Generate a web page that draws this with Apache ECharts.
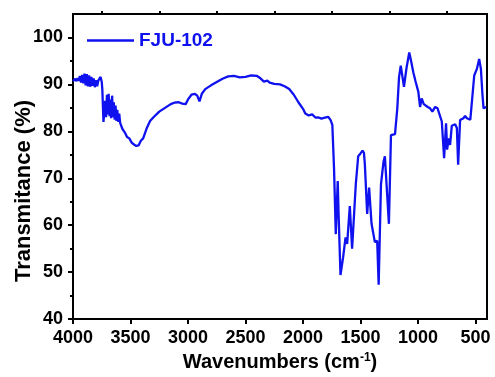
<!DOCTYPE html>
<html>
<head>
<meta charset="utf-8">
<script src="https://cdn.jsdelivr.net/npm/echarts@6/dist/echarts.min.js"></script>
<style>
  html, body { margin: 0; padding: 0; background: #fff; }
  #main { width: 495px; height: 377px; }
</style>
</head>
<body>
<div id="main"></div>
<script>
// FT-IR spectrum of FJU-102
const wavenumbers = [
  4000, 3990, 3980, 3970, 3960, 3950, 3940, 3930, 3920, 3910, 3900, 3890, 3880, 3870, 3860, 3850, 3840, 3830,
  3820, 3810, 3800, 3790, 3780, 3770, 3760, 3750, 3745,
  3735, 3728, 3720, 3712, 3705, 3698, 3690, 3682, 3675, 3668, 3660, 3652, 3645, 3638, 3630, 3622, 3615, 3606,
  3598, 3590, 3580, 3570, 3550, 3530,
  3510, 3490, 3470, 3450, 3430, 3410, 3390, 3360, 3330, 3300, 3250, 3200, 3150, 3120, 3080, 3050, 3020, 3000,
  2970, 2940, 2920, 2900, 2880, 2850, 2800, 2750, 2700, 2650, 2600, 2550, 2500, 2450, 2400, 2370, 2340, 2310,
  2290, 2250, 2200, 2160, 2120, 2080, 2040, 2000, 1980, 1950, 1920, 1890, 1870, 1840, 1810, 1780, 1760, 1745,
  1730, 1715, 1698, 1690, 1674, 1651, 1630, 1616, 1593, 1573, 1541, 1520, 1500, 1482, 1470, 1462, 1442, 1425,
  1404, 1375, 1355, 1342, 1322, 1300, 1288, 1275, 1253, 1235, 1200, 1180, 1165, 1150, 1140, 1122, 1100, 1076,
  1060, 1041, 1020, 997, 982, 968, 950, 939, 915, 895, 875, 851, 830, 814, 793, 773, 756, 747, 732, 721, 706,
  690, 677, 662, 651, 634, 605, 590, 575, 561, 545, 532, 511, 488, 468, 453, 440, 430, 407
]
const transmittance = [
  90.7, 90.9, 91.2, 90.7, 91.3, 90.8, 91.8, 90.4, 92.0, 90.2, 92.3, 89.8, 92.2, 89.6, 91.9, 89.5, 91.6, 89.7,
  91.3, 89.4, 90.9, 89.6, 90.8, 91.2, 91.6, 90.5, 89.0,
  82.0, 81.7, 86.5, 83.0, 87.8, 83.6, 88.0, 83.2, 86.8, 82.8, 87.6, 83.0, 86.2, 82.5, 85.5, 82.2, 84.6, 82.0,
  83.8, 81.8, 81.5, 80.5, 79.8, 78.8,
  78.5, 77.6, 77.2, 76.9, 77.0, 78.0, 78.5, 80.6, 82.2, 83.0, 84.2, 85.0, 85.8, 86.1, 86.2, 85.9, 85.8, 86.8,
  87.8, 88.0, 87.6, 86.4, 88.0, 89.0, 89.8, 90.5, 91.2, 91.7, 91.8, 91.5, 91.6, 91.9, 91.8, 91.3, 90.6, 90.8,
  90.4, 90.1, 90.0, 89.6, 89.0, 87.8, 86.2, 84.8, 83.8, 83.4, 83.6, 82.9, 83.0, 82.7, 82.9, 83.1, 82.4, 81.4,
  72.0, 58.1, 69.4, 62.0, 49.4, 53.2, 57.4, 56.0, 64.1, 55.0, 68.7, 74.7, 75.3, 75.9, 75.4, 72.9, 62.4, 68.0,
  60.3, 56.4, 56.7, 47.3, 68.7, 73.5, 74.7, 74.3, 60.3, 79.2, 79.4, 84.9, 91.5, 94.0, 94.4, 89.5, 93.5, 96.8,
  95.0, 92.6, 90.5, 88.4, 85.2, 87.0, 85.8, 85.6, 85.2, 84.9, 84.2, 85.2, 84.9, 84.5, 82.1, 74.3, 81.7, 76.1, 78.5, 77.1, 81.2,
  81.4, 81.5, 80.7, 72.9, 82.4, 82.8, 83.3, 82.8, 82.4, 82.5, 82.8, 91.9, 93.3, 95.4, 93.3, 88.0, 84.9, 85.2
]
const xMajorTicks = [500, 1000, 1500, 2000, 2500, 3000, 3500, 4000]
const xMinorTicks = [750, 1250, 1750, 2250, 2750, 3250, 3750]
const yMajorTicks = [40, 50, 60, 70, 80, 90, 100]
const yMinorTicks = [45, 55, 65, 75, 85, 95]

const spectrum = wavenumbers.map((w, i) => [w, transmittance[i]])

const font = '"Liberation Sans", Arial, sans-serif'
const blue = '#0f12ee'

const myChart = echarts.init(document.getElementById('main'))

const xBase = {
    type: 'value',
    min: 400,
    max: 4000,
    inverse: true,
    splitLine: { show: false }
}
const yBase = {
    type: 'value',
    min: 40,
    max: 105,
    splitLine: { show: false }
}

const option = {
    animation: false,
    backgroundColor: '#fff',
    grid: {
        left: 73, right: 8, top: 14, bottom: 54,
        show: true, borderColor: '#000', borderWidth: 2
    },
    legend: {
        left: 82,
        top: 26,
        icon: 'rect',
        itemWidth: 47,
        itemHeight: 2.5,
        textStyle: { color: blue, fontFamily: font, fontWeight: 'bold', fontSize: 19 },
        data: ['FJU-102']
    },
    xAxis: [
        Object.assign({}, xBase, {
            axisLine: { lineStyle: { color: '#000', width: 2 } },
            axisTick: { customValues: xMajorTicks, length: 5, lineStyle: { color: '#000', width: 2 } },
            axisLabel: {
                customValues: xMajorTicks, margin: 10,
                formatter: v => String(v),
                color: '#000', fontFamily: font, fontWeight: 'bold', fontSize: 18
            },
            name: '{a|Wavenumbers (cm}{s|-1}{a|)}',
            nameLocation: 'middle',
            nameGap: 29,
            nameTextStyle: {
                rich: {
                    a: { color: '#000', fontFamily: font, fontWeight: 'bold', fontSize: 20 },
                    s: { color: '#000', fontFamily: font, fontWeight: 'bold', fontSize: 12, verticalAlign: 'top', padding: [0, 0, 8, 0] }
                }
            }
        }),
        Object.assign({}, xBase, {
            axisLine: { show: false },
            axisTick: { customValues: xMinorTicks, length: 3, lineStyle: { color: '#000', width: 2 } },
            axisLabel: { show: false }
        })
    ],
    yAxis: [
        Object.assign({}, yBase, {
            axisLine: { show: true, lineStyle: { color: '#000', width: 2 } },
            axisTick: { show: true, customValues: yMajorTicks, length: 5, lineStyle: { color: '#000', width: 2 } },
            axisLabel: {
                customValues: yMajorTicks, margin: 10,
                formatter: v => String(v),
                color: '#000', fontFamily: font, fontWeight: 'bold', fontSize: 18
            }
        }),
        Object.assign({}, yBase, {
            position: 'left',
            axisLine: { show: false },
            axisTick: { show: true, customValues: yMinorTicks, length: 3, lineStyle: { color: '#000', width: 2 } },
            axisLabel: { show: false }
        })
    ],
    graphic: [{
        type: 'text',
        x: 24,
        y: 191,
        rotation: Math.PI / 2,
        style: {
            text: 'Transmitance (%)',
            fill: '#000',
            font: 'bold 22px ' + font,
            textAlign: 'center',
            textVerticalAlign: 'middle'
        }
    }],
    series: [{
        name: 'FJU-102',
        type: 'line',
        showSymbol: false,
        color: blue,
        lineStyle: { color: blue, width: 2.3 },
        data: spectrum
    }]
}

myChart.setOption(option)
</script>
</body>
</html>
